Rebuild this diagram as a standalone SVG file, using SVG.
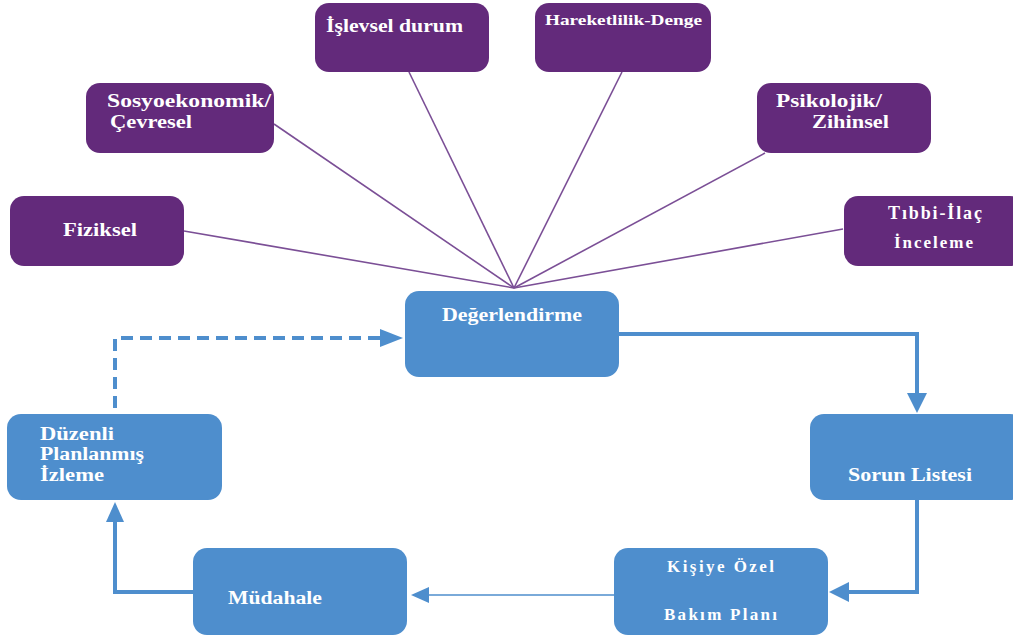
<svg xmlns="http://www.w3.org/2000/svg" width="1013" height="639" viewBox="0 0 1013 639">
<defs>
<style>
.p{fill:#632a7b}
.b{fill:#4e8ecd}
.t{font-family:"Liberation Serif","DejaVu Serif",serif;font-weight:bold;fill:#ffffff;font-size:18px}
.s{font-size:15px}
.m{font-size:17px}
.sp{stroke:#7b4f96;stroke-width:1.6;fill:none}
.c{stroke:#4e8ecd;stroke-width:4;fill:none}
.thin{stroke:#4e8ecd;stroke-width:1.6;fill:none}
.d{stroke:#4e8ecd;stroke-width:4;fill:none;stroke-dasharray:12,7}
.ah{fill:#4e8ecd}
</style>
</defs>
<rect width="1013" height="639" fill="#ffffff"/>
<g id="connectors">
<line class="sp" x1="184" y1="231" x2="514" y2="288"/>
<line class="sp" x1="274" y1="124" x2="514" y2="288"/>
<line class="sp" x1="409" y1="72" x2="514" y2="288"/>
<line class="sp" x1="622" y1="72" x2="514" y2="288"/>
<line class="sp" x1="765" y1="153" x2="514" y2="288"/>
<line class="sp" x1="843" y1="229" x2="514" y2="288"/>
<polyline class="c" points="619,334 917,334 917,394"/>
<polygon class="ah" points="907,393 927,393 917,413"/>
<polyline class="c" points="917,500 917,592 848,592"/>
<polygon class="ah" points="849,582 849,602 829,592"/>
<line class="thin" x1="614" y1="595" x2="428" y2="595"/>
<polygon class="ah" points="429,587 429,603 411,595"/>
<polyline class="c" points="193,592 115,592 115,521"/>
<polygon class="ah" points="106,522 124,522 115,502"/>
<polyline class="d" points="115,408 115,338 382,338"/>
<polygon class="ah" points="380,329 380,347 403,338"/>
</g>
<g id="fiziksel"><rect class="p" x="10" y="196" width="174" height="70" rx="14"/><text class="t" x="63" y="236" textLength="74" lengthAdjust="spacingAndGlyphs">Fiziksel</text></g>
<g id="sosyoekonomik"><rect class="p" x="86" y="83" width="188" height="70" rx="14"/><text class="t" x="107" y="107" textLength="164" lengthAdjust="spacingAndGlyphs">Sosyoekonomik/</text><text class="t" x="110" y="128" textLength="82" lengthAdjust="spacingAndGlyphs">Çevresel</text></g>
<g id="islevsel"><rect class="p" x="315" y="3" width="174" height="69" rx="14"/><text class="t" x="326" y="32" textLength="137" lengthAdjust="spacingAndGlyphs">İşlevsel durum</text></g>
<g id="hareketlilik"><rect class="p" x="535" y="3" width="176" height="69" rx="14"/><text class="t s" x="545" y="25" textLength="157" lengthAdjust="spacingAndGlyphs">Hareketlilik-Denge</text></g>
<g id="psikolojik"><rect class="p" x="757" y="83" width="174" height="70" rx="14"/><text class="t" x="776" y="107" textLength="106" lengthAdjust="spacingAndGlyphs">Psikolojik/</text><text class="t" x="812" y="128" textLength="77" lengthAdjust="spacingAndGlyphs">Zihinsel</text></g>
<g id="tibbi"><rect class="p" x="844" y="196" width="180" height="70" rx="14"/><text class="t" x="888" y="219" textLength="94">Tıbbi-İlaç</text><text class="t m" x="894" y="248" textLength="79">İnceleme</text></g>
<g id="degerlendirme"><rect class="b" x="405" y="291" width="214" height="86" rx="14"/><text class="t" x="442" y="321" textLength="140" lengthAdjust="spacingAndGlyphs">Değerlendirme</text></g>
<g id="sorun"><rect class="b" x="810" y="414" width="214" height="86" rx="14"/><text class="t" x="848" y="481" textLength="124" lengthAdjust="spacingAndGlyphs">Sorun Listesi</text></g>
<g id="kisiye"><rect class="b" x="614" y="548" width="214" height="87" rx="14"/><text class="t m" x="667" y="572" textLength="107">Kişiye Özel</text><text class="t m" x="664" y="620" textLength="113">Bakım Planı</text></g>
<g id="mudahale"><rect class="b" x="193" y="548" width="214" height="87" rx="14"/><text class="t" x="228" y="604" textLength="94" lengthAdjust="spacingAndGlyphs">Müdahale</text></g>
<g id="duzenli"><rect class="b" x="7" y="414" width="215" height="86" rx="14"/><text class="t" x="40" y="440" textLength="74" lengthAdjust="spacingAndGlyphs">Düzenli</text><text class="t" x="40" y="460" textLength="104" lengthAdjust="spacingAndGlyphs">Planlanmış</text><text class="t" x="40" y="481" textLength="64" lengthAdjust="spacingAndGlyphs">İzleme</text></g>
</svg>
